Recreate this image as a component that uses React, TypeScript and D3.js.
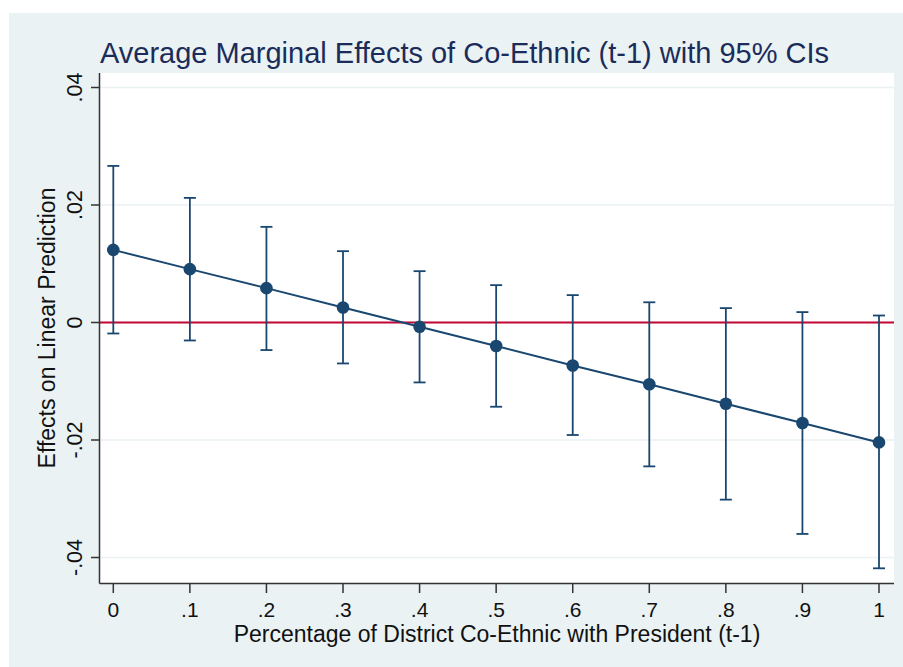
import React from 'react';
import * as d3 from 'd3';

// values
const xValues = [0, 0.1, 0.2, 0.3, 0.4, 0.5, 0.6, 0.7, 0.8, 0.9, 1];
const effects = [0.01236, 0.00908, 0.00585, 0.00255, -0.00073, -0.00401, -0.00731, -0.01051, -0.01383, -0.01711, -0.02041];
const ciUpper = [0.02665, 0.02121, 0.01628, 0.01214, 0.00874, 0.00636, 0.00466, 0.00344, 0.00245, 0.00177, 0.00119];
const ciLower = [-0.00187, -0.00306, -0.00469, -0.00697, -0.0102, -0.01434, -0.01915, -0.02449, -0.03015, -0.03599, -0.04184];
const yTicks = [-0.04, -0.02, 0, 0.02, 0.04];
const yTickLabels = ['-.04', '-.02', '0', '.02', '.04'];
const xTicks = [0, 0.1, 0.2, 0.3, 0.4, 0.5, 0.6, 0.7, 0.8, 0.9, 1];
const xTickLabels = ['0', '.1', '.2', '.3', '.4', '.5', '.6', '.7', '.8', '.9', '1'];

const title = 'Average Marginal Effects of Co-Ethnic (t-1) with 95% CIs';
const xTitle = 'Percentage of District Co-Ethnic with President (t-1)';
const yTitle = 'Effects on Linear Prediction';

const W = 903;
const H = 667;
const plot = { left: 100, right: 894, top: 73, bottom: 583 };

const navy = '#1a476f';
const red = '#c10534';
const bg = '#eaf2f3';
const font = '"Liberation Sans", Arial, sans-serif';

export default function App() {
  const x = d3.scaleLinear().domain([0, 1]).range([113.3, 879]);
  const y = d3.scaleLinear().domain([-0.04, 0.04]).range([557.5, 87.5]);

  const pts = xValues.map((v, i) => ({ x: v, est: effects[i], lo: ciLower[i], hi: ciUpper[i] }));
  const line = d3.line<{ x: number; est: number }>()
    .x(d => x(d.x))
    .y(d => y(d.est));

  const cap = 6;

  return (
    <svg width={W} height={H} style={{ position: 'absolute', left: 0, top: 0 }} fontFamily={font}>
      <rect x={0} y={0} width={W} height={H} fill="#ffffff" />
      <rect x={9} y={13} width={W - 9} height={H - 13} fill={bg} />
      <rect x={plot.left} y={plot.top} width={plot.right - plot.left} height={plot.bottom - plot.top} fill="#ffffff" />

      {/* gridlines */}
      {yTicks.map(t => (
        <line key={'g' + t} x1={plot.left} x2={plot.right} y1={y(t)} y2={y(t)} stroke={bg} strokeWidth={1.5} />
      ))}

      {/* zero reference line */}
      <line x1={plot.left} x2={plot.right} y1={y(0)} y2={y(0)} stroke={red} strokeWidth={2} />

      {/* CI bars */}
      {pts.map(d => (
        <g key={'ci' + d.x} stroke={navy} strokeWidth={1.8}>
          <line x1={x(d.x)} x2={x(d.x)} y1={y(d.hi)} y2={y(d.lo)} />
          <line x1={x(d.x) - cap} x2={x(d.x) + cap} y1={y(d.hi)} y2={y(d.hi)} />
          <line x1={x(d.x) - cap} x2={x(d.x) + cap} y1={y(d.lo)} y2={y(d.lo)} />
        </g>
      ))}

      <path d={line(pts) || ''} fill="none" stroke={navy} strokeWidth={2} />
      {pts.map(d => (
        <circle key={'p' + d.x} cx={x(d.x)} cy={y(d.est)} r={6.3} fill={navy} />
      ))}

      {/* axes */}
      <line x1={plot.left - 0.5} x2={plot.left - 0.5} y1={plot.top} y2={plot.bottom + 0.5} stroke="#333333" strokeWidth={1.5} />
      <line x1={plot.left - 0.5} x2={plot.right} y1={plot.bottom + 0.5} y2={plot.bottom + 0.5} stroke="#333333" strokeWidth={1.5} />
      {yTicks.map((t, i) => (
        <g key={'yt' + t}>
          <line x1={plot.left - 9} x2={plot.left} y1={y(t)} y2={y(t)} stroke="#333333" strokeWidth={1.5} />
          <text transform={`translate(82,${y(t)}) rotate(-90)`} textAnchor="middle" fontSize={21.5} fill="#111">
            {yTickLabels[i]}
          </text>
        </g>
      ))}
      {xTicks.map((t, i) => (
        <g key={'xt' + t}>
          <line x1={x(t)} x2={x(t)} y1={plot.bottom} y2={plot.bottom + 10} stroke="#333333" strokeWidth={1.5} />
          <text x={x(t)} y={617} textAnchor="middle" fontSize={21} fill="#111">
            {xTickLabels[i]}
          </text>
        </g>
      ))}

      <text x={(plot.left + plot.right) / 2} y={642} textAnchor="middle" fontSize={23} fill="#111">
        {xTitle}
      </text>
      <text transform={`translate(55,${(plot.top + plot.bottom) / 2}) rotate(-90)`} textAnchor="middle" fontSize={23} fill="#111">
        {yTitle}
      </text>

      <text x={100} y={63} fontSize={29} fill="#1c2c5a">
        {title}
      </text>
    </svg>
  );
}
